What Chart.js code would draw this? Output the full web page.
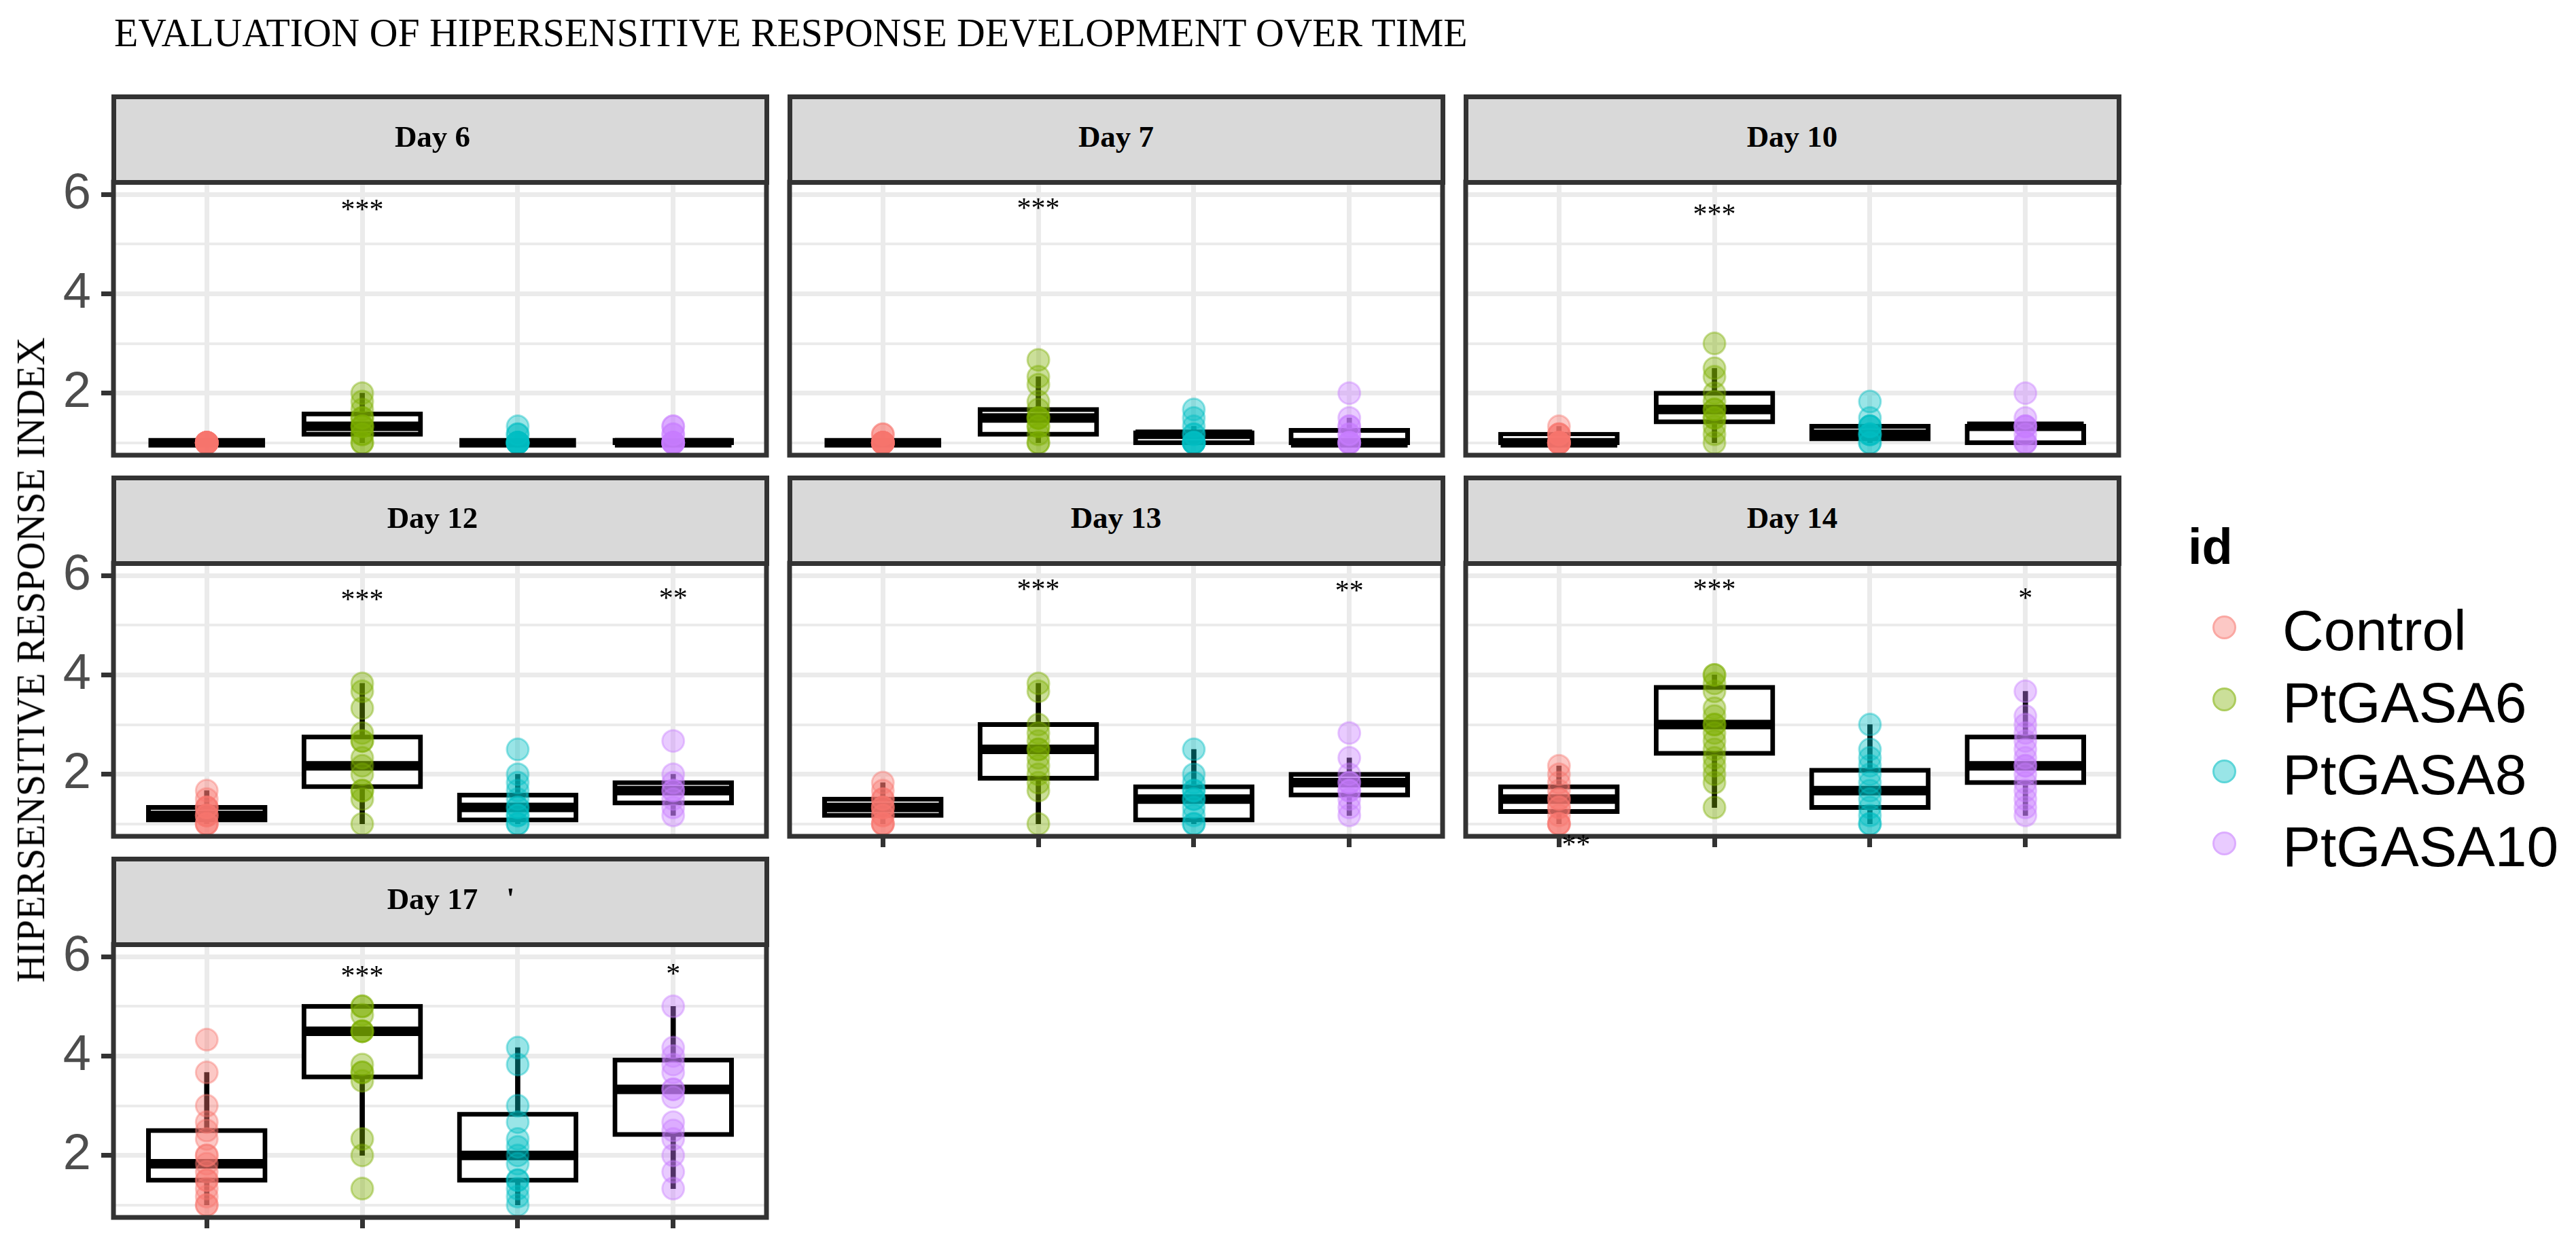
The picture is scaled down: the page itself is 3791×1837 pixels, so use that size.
<!DOCTYPE html>
<html lang="en">
<head>
<meta charset="utf-8">
<title>Hipersensitive response over time</title>
<script src="https://cdn.jsdelivr.net/npm/chart.js@4.4.1/dist/chart.umd.min.js"></script>
<style>
  html, body { margin: 0; padding: 0; background: #ffffff; }
  body { position: relative; width: 3791px; height: 1837px; overflow: hidden; }
  canvas { position: absolute; }
  .txt { position: absolute; white-space: nowrap; }
  .strip { position: absolute; box-sizing: border-box; background: #d9d9d9; border: 7px solid #333333; }
  .key { position: absolute; box-sizing: border-box; width: 35px; height: 35px; border-radius: 50%; border: 3px solid; }
</style>
</head>
<body>
<script>
// Groups and facets
const groups = ["Control", "PtGASA6", "PtGASA8", "PtGASA10"];
const days = ["Day 6", "Day 7", "Day 10", "Day 12", "Day 13", "Day 14", "Day 17"];

// y axis
const yTickValues = [2, 4, 6];
const yTickLabels = ["2", "4", "6"];
const yMinorValues = [1, 3, 5];
const yRange = [0.75, 6.25];

// Box statistics: one row per day, one value per group
const lowerQuartile = [
    [1, 1.17, 1, 1],
    [1, 1.17, 1, 1],
    [1, 1.42, 1.08, 1],
    [1.08, 1.75, 1.08, 1.42],
    [1.17, 1.92, 1.08, 1.58],
    [1.25, 2.42, 1.33, 1.83],
    [1.5, 3.58, 1.5, 2.42]
];
const medians = [
    [1, 1.33, 1, 1],
    [1, 1.5, 1.17, 1],
    [1, 1.67, 1.17, 1.33],
    [1.17, 2.17, 1.33, 1.67],
    [1.33, 2.5, 1.5, 1.83],
    [1.5, 3, 1.67, 2.17],
    [1.83, 4.5, 2, 3.33]
];
const upperQuartile = [
    [1, 1.58, 1, 1.05],
    [1, 1.67, 1.2, 1.25],
    [1.17, 2, 1.33, 1.33],
    [1.33, 2.75, 1.58, 1.83],
    [1.5, 3, 1.75, 2],
    [1.75, 3.75, 2.08, 2.75],
    [2.5, 5, 2.83, 3.92]
];
const whiskerLow = [
    [1, 1, 1, 1],
    [1, 1, 1, 1],
    [1, 1, 1, 1],
    [1, 1, 1, 1.17],
    [1, 1, 1, 1.17],
    [1, 1.33, 1, 1.17],
    [1, 2, 1, 1.33]
];
const whiskerHigh = [
    [1, 2, 1, 1.05],
    [1, 2.33, 1.33, 1.5],
    [1.33, 2.5, 1.33, 1.33],
    [1.67, 3.83, 2, 2],
    [1.83, 3.83, 2.5, 2.33],
    [2.17, 4, 3, 3.67],
    [3.67, 5, 4.17, 5]
];

// Individual plant scores, one list per day
const controlScores = [
    [1, 1, 1, 1, 1, 1, 1, 1, 1, 1],
    [1.17, 1.17, 1, 1, 1, 1, 1, 1, 1, 1],
    [1.33, 1.17, 1.17, 1.17, 1, 1, 1, 1, 1, 1],
    [1.67, 1.5, 1.33, 1.33, 1.33, 1.17, 1.17, 1.17, 1, 1, 1],
    [1.83, 1.67, 1.5, 1.5, 1.33, 1.33, 1.33, 1.17, 1.17, 1, 1, 1],
    [2.17, 2, 1.83, 1.67, 1.5, 1.5, 1.33, 1.33, 1.17, 1, 1, 1],
    [4.33, 3.67, 3, 2.67, 2.5, 2.33, 2, 2, 1.83, 1.67, 1.5, 1.5, 1.33, 1.17, 1, 1]
];
const gasa6Scores = [
    [2, 1.83, 1.67, 1.5, 1.5, 1.33, 1.33, 1.33, 1.17, 1.17, 1, 1],
    [2.67, 2.33, 2.17, 1.83, 1.67, 1.5, 1.5, 1.5, 1.33, 1.33, 1.17, 1, 1],
    [3, 2.5, 2.33, 2, 1.83, 1.67, 1.67, 1.5, 1.5, 1.33, 1.17, 1],
    [3.83, 3.67, 3.33, 2.83, 2.67, 2.67, 2.33, 2.17, 2, 1.67, 1.67, 1.5, 1],
    [3.83, 3.67, 3, 2.83, 2.67, 2.5, 2.5, 2.33, 2.17, 2, 1.83, 1.67, 1],
    [4, 4, 3.83, 3.67, 3.33, 3.17, 3, 3, 2.83, 2.67, 2.5, 2.33, 2.17, 2, 1.83, 1.33],
    [5, 5, 4.83, 4.5, 4.5, 4.5, 3.83, 3.67, 3.67, 3.5, 2.33, 2, 1.33]
];
const gasa8Scores = [
    [1.33, 1.17, 1.17, 1, 1, 1, 1, 1, 1, 1],
    [1.67, 1.5, 1.33, 1.17, 1.17, 1, 1, 1, 1, 1],
    [1.83, 1.5, 1.33, 1.33, 1.33, 1.17, 1.17, 1.17, 1, 1],
    [2.5, 2, 1.83, 1.67, 1.5, 1.33, 1.33, 1.17, 1.17, 1, 1],
    [2.5, 2, 1.83, 1.67, 1.67, 1.5, 1.5, 1.33, 1.17, 1, 1],
    [3, 2.5, 2.33, 2.17, 2, 1.83, 1.67, 1.5, 1.33, 1.17, 1, 1],
    [4.17, 3.83, 3, 2.67, 2.33, 2.17, 2, 1.83, 1.5, 1.5, 1.33, 1.17, 1]
];
const gasa10Scores = [
    [1.33, 1.33, 1.17, 1.17, 1, 1, 1, 1, 1, 1],
    [2, 1.5, 1.33, 1.33, 1.17, 1.17, 1, 1, 1, 1],
    [2, 1.5, 1.33, 1.33, 1.33, 1.17, 1, 1, 1],
    [2.67, 2, 1.83, 1.67, 1.67, 1.5, 1.33, 1.17],
    [2.83, 2.33, 2, 1.83, 1.83, 1.67, 1.67, 1.5, 1.33, 1.17],
    [3.67, 3.17, 3, 2.83, 2.67, 2.5, 2.33, 2.17, 2.17, 2, 1.83, 1.67, 1.5, 1.33, 1.17],
    [5, 4.17, 4, 3.83, 3.67, 3.33, 3.33, 3.17, 2.67, 2.5, 2.33, 2, 1.67, 1.33]
];
const groupScores = [controlScores, gasa6Scores, gasa8Scores, gasa10Scores];

// Significance marks above each group, and their heights
const sigMarks = [
    ["", "***", "", ""],
    ["", "***", "", ""],
    ["", "***", "", ""],
    ["", "***", "", "**"],
    ["", "***", "", "**"],
    ["", "***", "", "*"],
    ["", "***", "", "*"]
];
const sigHeights = [
    [0, 5.77, 0, 0],
    [0, 5.8, 0, 0],
    [0, 5.68, 0, 0],
    [0, 5.6, 0, 5.62],
    [0, 5.8, 0, 5.78],
    [0, 5.8, 0, 5.63],
    [0, 5.7, 0, 5.74]
];
// leftover label under the Day 14 control box
const strayMark = { day: 5, text: "**", x: 0.11, y: 0.66 };

// Style
const palette = ["#F8766D", "#7CAE00", "#00BFC4", "#C77CFF"];
const GRID = "#EBEBEB";
const DARK = "#333333";
const SERIF = '"Liberation Serif", "Times New Roman", serif';
const SANS = '"Liberation Sans", Arial, sans-serif';
const SERIF_BASE = 0.8375;
const SANS_BASE = 0.8465;
const PANEL_W = 961, PLOT_H = 402, STRIP_H = 126;
const COL_STEP = 995, ROW_STEP = 561, FIRST_LEFT = 167, FIRST_TOP = 268;
const BOX_WIDTH = 0.75;
const STAR_SIZE = 42;

function fade(hex, a) {
    const n = parseInt(hex.slice(1), 16);
    return `rgba(${n >> 16}, ${(n >> 8) & 255}, ${n & 255}, ${a})`;
}

function addText(text, o) {
    const el = document.createElement("div");
    el.className = "txt";
    el.textContent = text;
    el.style.fontFamily = o.family;
    el.style.fontSize = o.size + "px";
    el.style.fontWeight = o.weight || "normal";
    el.style.lineHeight = o.size + "px";
    el.style.color = o.color || "#000";
    el.style.left = o.left + "px";
    el.style.top = (o.baseline - (o.ascent || SERIF_BASE) * o.size) + "px";
    if (o.width) {
        el.style.width = o.width + "px";
        el.style.textAlign = "center";
    }
    document.body.appendChild(el);
    return el;
}

// Border and significance marks for one panel
function panelFrame(d) {
    return {
        id: "panelFrame",
        afterDraw(chart) {
            const { ctx, chartArea: a, scales: { x, y } } = chart;
            ctx.save();
            ctx.strokeStyle = DARK;
            ctx.lineWidth = 7;
            ctx.strokeRect(a.left, a.top, a.right - a.left, a.bottom - a.top);
            ctx.fillStyle = "#000";
            ctx.font = `${STAR_SIZE}px ${SERIF}`;
            ctx.textAlign = "center";
            ctx.textBaseline = "alphabetic";
            sigMarks[d].forEach((mark, i) => {
                if (!mark) return;
                ctx.fillText(mark, x.getPixelForValue(i), y.getPixelForValue(sigHeights[d][i]) + 0.46 * STAR_SIZE);
            });
            if (strayMark.day === d) {
                ctx.fillText(strayMark.text, x.getPixelForValue(strayMark.x), y.getPixelForValue(strayMark.y) + 0.46 * STAR_SIZE);
            }
            ctx.restore();
        }
    };
}

function halfBox(chart) {
    const s = chart.scales.x;
    const r = Math.abs(s.getPixelForValue(BOX_WIDTH / 2) - s.getPixelForValue(0));
    return isFinite(r) ? r : 0;
}

function buildPanel(day, d) {
    const col = d % 3;
    const row = Math.floor(d / 3);
    const left = FIRST_LEFT + col * COL_STEP;
    const top = FIRST_TOP + row * ROW_STEP;
    const isLeft = col === 0;
    const isBottom = d >= days.length - 3;

    const padL = isLeft ? 165 : 10, padR = 10, padT = 40, padB = 25;
    const canvas = document.createElement("canvas");
    canvas.width = padL + PANEL_W + padR;
    canvas.height = padT + PLOT_H + padB;
    canvas.style.left = (left - padL) + "px";
    canvas.style.top = (top - padT) + "px";
    document.body.appendChild(canvas);

    const datasets = groups.map((g, i) => ({
        type: "scatter",
        label: g,
        order: 0,
        data: groupScores[i][d].map(v => ({ x: i, y: v })),
        pointRadius: 16,
        pointBorderWidth: 3,
        pointBackgroundColor: fade(palette[i], 0.4),
        pointBorderColor: fade(palette[i], 0.4)
    }));
    datasets.push({
        type: "scatter",
        label: "median",
        order: 1,
        data: medians[d].map((m, i) => ({ x: i, y: m })),
        pointStyle: "line",
        pointRadius: c => halfBox(c.chart),
        pointBorderWidth: 14,
        pointBorderColor: "#000",
        pointBackgroundColor: "#000"
    });
    datasets.push({
        type: "bar",
        label: "box",
        order: 2,
        grouped: false,
        categoryPercentage: 1,
        barPercentage: BOX_WIDTH,
        data: lowerQuartile[d].map((v, i) => ({ x: i, y: [v, upperQuartile[d][i]] })),
        backgroundColor: "#ffffff",
        borderColor: "#000000",
        borderWidth: 7,
        borderSkipped: false,
        inflateAmount: 3.5
    });
    datasets.push({
        type: "bar",
        label: "whisker",
        order: 3,
        grouped: false,
        barThickness: 7,
        data: whiskerLow[d].map((v, i) => ({ x: i, y: [v, whiskerHigh[d][i]] })),
        backgroundColor: "#000000",
        borderWidth: 0
    });

    new Chart(canvas, {
        type: "scatter",
        data: { datasets },
        options: {
            responsive: false,
            animation: false,
            devicePixelRatio: 1,
            events: [],
            layout: { autoPadding: false, padding: { top: padT, right: padR, left: 0, bottom: 0 } },
            plugins: { legend: { display: false }, tooltip: { enabled: false } },
            scales: {
                x: {
                    type: "linear",
                    bounds: "data",
                    min: -0.6,
                    max: groups.length - 0.4,
                    offset: false,
                    afterBuildTicks: s => { s.ticks = groups.map((g, i) => ({ value: i })); },
                    afterFit: s => { s.height = padB; s.paddingLeft = 0; s.paddingRight = 0; },
                    ticks: { display: false, autoSkip: false },
                    border: { display: false },
                    grid: {
                        offset: false, color: GRID, lineWidth: 7,
                        drawTicks: isBottom, tickLength: 16, tickColor: DARK, tickWidth: 7
                    }
                },
                y: {
                    type: "linear",
                    bounds: "data",
                    min: yRange[0],
                    max: yRange[1],
                    afterBuildTicks: s => {
                        s.ticks = [...yMinorValues, ...yTickValues].sort((a, b) => a - b).map(v => ({ value: v }));
                    },
                    afterFit: s => { s.width = padL; s.paddingTop = 0; s.paddingBottom = 0; },
                    ticks: {
                        display: isLeft,
                        autoSkip: false,
                        padding: 15,
                        color: "#4D4D4D",
                        font: { family: SANS, size: 74 },
                        callback: v => {
                            const k = yTickValues.indexOf(v);
                            return k >= 0 ? yTickLabels[k] : "";
                        }
                    },
                    border: { display: false },
                    grid: {
                        color: GRID,
                        lineWidth: c => (c.tick && yTickValues.includes(c.tick.value) ? 7 : 4),
                        drawTicks: isLeft,
                        tickLength: 18,
                        tickWidth: 7,
                        tickColor: c => (c.tick && yTickValues.includes(c.tick.value) ? DARK : "rgba(0,0,0,0)")
                    }
                }
            }
        },
        plugins: [panelFrame(d)]
    });

    // strip on top of the panel
    const strip = document.createElement("div");
    strip.className = "strip";
    strip.style.left = (left - 3.5) + "px";
    strip.style.top = (top - STRIP_H - 3.5) + "px";
    strip.style.width = (PANEL_W + 7) + "px";
    strip.style.height = (STRIP_H + 7) + "px";
    document.body.appendChild(strip);
    addText(day, {
        family: SERIF, size: 45, weight: "bold",
        left: left - (isLeft ? 11 : 0), width: PANEL_W, baseline: top - STRIP_H + 74.5
    });
}

days.forEach(buildPanel);

// stray tick mark in the Day 17 strip
addText("'", { family: SERIF, size: 45, weight: "bold", left: 745, baseline: 1338 });

// Titles
const title = addText("EVALUATION OF HIPERSENSITIVE RESPONSE DEVELOPMENT OVER TIME",
    { family: SERIF, size: 59, left: 168, baseline: 68 });
title.style.transformOrigin = "0 0";
title.style.transform = `scaleX(${1992 / title.offsetWidth})`;

const yTitle = addText("HIPERSENSITIVE RESPONSE INDEX", { family: SERIF, size: 59, left: 0, baseline: 0 });
const yw = yTitle.offsetWidth;
yTitle.style.left = (45.5 - yw / 2) + "px";
yTitle.style.top = (971 - 29.5) + "px";
yTitle.style.transform = `rotate(-90deg) scaleX(${950 / yw})`;

// Legend
addText("id", { family: SANS, size: 74, weight: "bold", left: 3220, baseline: 831, ascent: SANS_BASE });
groups.forEach((g, i) => {
    const base = 957 + i * 106;
    const dot = document.createElement("div");
    dot.className = "key";
    dot.style.left = (3273 - 17.5) + "px";
    dot.style.top = (base - 34 - 17.5) + "px";
    dot.style.background = fade(palette[i], 0.4);
    dot.style.borderColor = fade(palette[i], 0.4);
    document.body.appendChild(dot);
    addText(g, { family: SANS, size: 84, left: 3359, baseline: base, ascent: SANS_BASE });
});
</script>
</body>
</html>
